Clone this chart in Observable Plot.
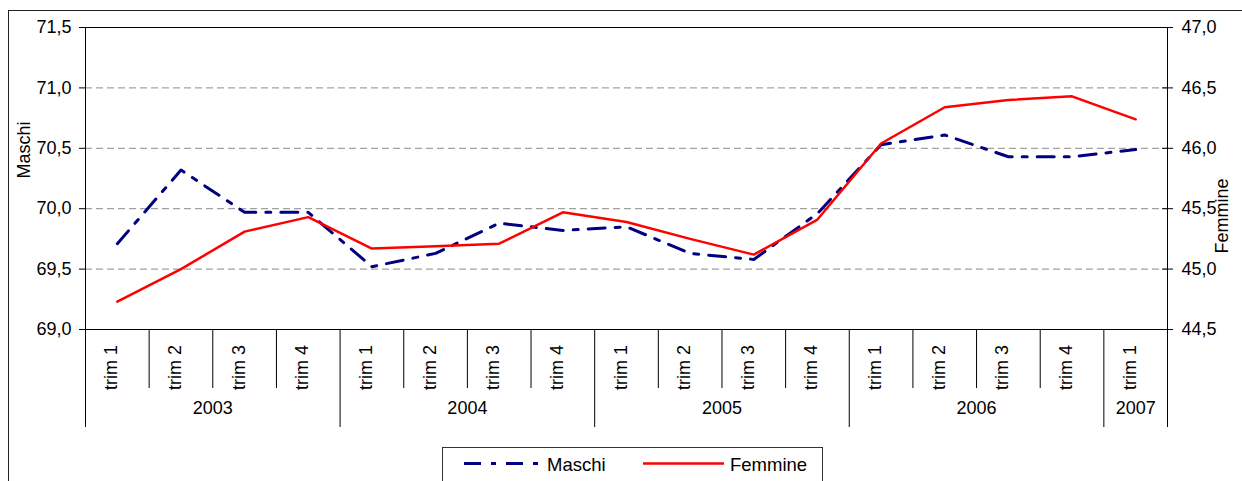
<!DOCTYPE html>
<html>
<head>
<meta charset="utf-8">
<script src="https://cdn.jsdelivr.net/npm/d3@7"></script>
<script src="https://cdn.jsdelivr.net/npm/@observablehq/plot@0.6"></script>
<style>
  html, body { margin: 0; padding: 0; background: #fff; }
  #wrap { position: relative; width: 1242px; height: 481px; overflow: hidden; font-family: "Liberation Sans", Arial, sans-serif; }
  #border { position: absolute; left: 8px; top: 10px; width: 1300px; height: 600px; border-left: 1.5px solid #222; border-top: 1.5px solid #222; box-sizing: border-box; }
  #chart { position: absolute; left: 0; top: 0; }
  #legend { position: absolute; left: 442px; top: 447px; width: 381px; height: 40px; border: 1px solid #333; box-sizing: border-box; background: #fff; }
</style>
</head>
<body>
<div id="wrap">
  <div id="border"></div>
  <div id="chart"></div>
  <div id="legend"></div>
</div>
<script>
// ---- data ----
const years = ["2003", "2004", "2005", "2006", "2007"];
const quartersPerYear = [4, 4, 4, 4, 1];
const quarterLabels = ["trim 1", "trim 2", "trim 3", "trim 4"];
const maschi = [69.71, 70.32, 69.97, 69.97, 69.52, 69.63, 69.88, 69.82, 69.85, 69.63, 69.58, 69.96, 70.53, 70.61, 70.43, 70.43, 70.49];
const femmine = [44.73, 45.00, 45.31, 45.43, 45.17, 45.19, 45.21, 45.47, 45.39, 45.25, 45.12, 45.41, 46.04, 46.34, 46.40, 46.43, 46.24];
const maschiTicks = [69.0, 69.5, 70.0, 70.5, 71.0, 71.5];
const femmineTicks = [44.5, 45.0, 45.5, 46.0, 46.5, 47.0];
const seriesNames = ["Maschi", "Femmine"];

// ---- derived structures ----
const offset = maschiTicks[0] - femmineTicks[0]; // secondary axis mapping
const categories = [];
const yearSpans = [];
years.forEach((y, yi) => {
  const start = categories.length;
  for (let q = 0; q < quartersPerYear[yi]; q++) categories.push({year: y, label: quarterLabels[q]});
  yearSpans.push({year: y, start, end: categories.length});
});
const data = categories.map((c, i) => ({i, label: c.label, maschi: maschi[i], femmine: femmine[i]}));
const yearBounds = [0, ...yearSpans.map(s => s.end)];
const innerBounds = d3.range(1, categories.length).filter(b => !yearBounds.includes(b));
const fmt = d => d.toFixed(1).replace(".", ",");

const MASCHI_COLOR = "#000080";
const FEMMINE_COLOR = "#ff0000";
const DASH = "17,10,5,10";
const FS = 18;

const chart = Plot.plot({
  width: 1242,
  height: 481,
  marginLeft: 85,
  marginRight: 75,
  marginTop: 27,
  marginBottom: 152,
  style: {fontFamily: "'Liberation Sans', Arial, sans-serif", fontSize: FS + "px", background: "transparent", overflow: "visible", color: "#000"},
  x: {type: "linear", domain: [0, categories.length], axis: null},
  y: {domain: [maschiTicks[0], maschiTicks[maschiTicks.length - 1]], axis: null},
  marks: [
    Plot.gridY(maschiTicks.slice(1, -1), {stroke: "#8c8c8c", strokeOpacity: 1, strokeDasharray: "7,4"}),
    Plot.frame({stroke: "#000"}),
    Plot.axisY(maschiTicks, {anchor: "left", tickFormat: fmt, tickSize: 6, tickPadding: 8, label: null, fontSize: FS}),
    Plot.axisY(maschiTicks, {anchor: "right", tickFormat: d => fmt(d - offset), tickSize: 5, tickPadding: 9, label: null, fontSize: FS}),
    Plot.axisY(maschiTicks, {anchor: "right", tickFormat: () => "", tickSize: -6, label: null}),
    Plot.axisX(innerBounds, {tickSize: 59, tickFormat: () => "", label: null}),
    Plot.axisX(yearBounds, {tickSize: 98, tickFormat: () => "", label: null}),
    Plot.text(data, {x: d => d.i + 0.5, text: "label", frameAnchor: "bottom", dy: 38, rotate: -90, fontSize: FS, fill: "#000"}),
    Plot.text(yearSpans, {x: d => (d.start + d.end) / 2, text: "year", frameAnchor: "bottom", dy: 84, fontSize: FS, fill: "#000"}),
    Plot.text([seriesNames[0]], {text: d => d, frameAnchor: "left", dx: -61, rotate: -90, fontSize: FS, fill: "#000"}),
    Plot.text([seriesNames[1]], {text: d => d, frameAnchor: "right", dx: 55, rotate: -90, fontSize: FS, fill: "#000"}),
    Plot.line(data, {x: d => d.i + 0.5, y: "maschi", stroke: MASCHI_COLOR, strokeWidth: 3, strokeDasharray: DASH}),
    Plot.line(data, {x: d => d.i + 0.5, y: d => d.femmine + offset, stroke: FEMMINE_COLOR, strokeWidth: 2.5})
  ]
});
document.getElementById("chart").appendChild(chart);

// ---- legend ----
const lg = d3.select("#legend").append("svg").attr("width", 381).attr("height", 40)
  .style("font-family", "'Liberation Sans', Arial, sans-serif").style("font-size", (FS + 0.5) + "px");
const items = [
  {name: seriesNames[0], color: MASCHI_COLOR, dash: DASH, w: 3, x1: 21, x2: 98, tx: 104},
  {name: seriesNames[1], color: FEMMINE_COLOR, dash: null, w: 2.5, x1: 200, x2: 281, tx: 287}
];
items.forEach(it => {
  lg.append("line").attr("x1", it.x1).attr("x2", it.x2).attr("y1", 15.5).attr("y2", 15.5)
    .attr("stroke", it.color).attr("stroke-width", it.w).attr("stroke-dasharray", it.dash);
  lg.append("text").attr("x", it.tx).attr("y", 22.5).attr("fill", "#000").text(it.name);
});
</script>
</body>
</html>
